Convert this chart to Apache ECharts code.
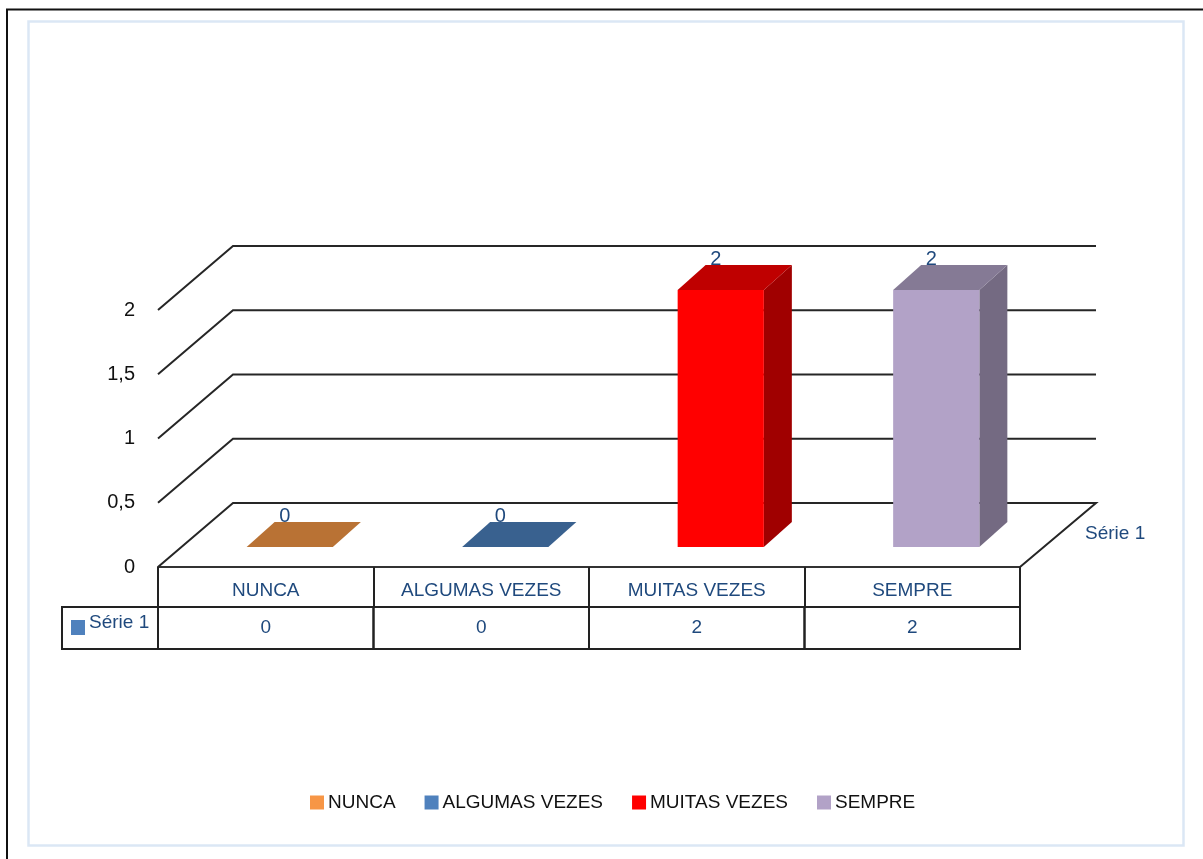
<!DOCTYPE html>
<html><head><meta charset="utf-8">
<style>html,body{margin:0;padding:0;background:#fff}#c{width:1203px;height:859px}</style>
<script src="https://cdn.jsdelivr.net/npm/echarts@6/dist/echarts.min.js"></script>
</head><body><div id="c"></div>
<script>
const categories = ['NUNCA', 'ALGUMAS VEZES', 'MUITAS VEZES', 'SEMPRE'];
const values = [0, 0, 2, 2];
const yTicks = [0, 0.5, 1, 1.5, 2];
const seriesName = 'Série 1';
const frontColors = ['#f79646', '#4f81bd', '#ff0000', '#b2a2c7'];
const topColors = ['#b97234', '#39618f', '#bf0000', '#857a95'];
const sideColors = ['#94592a', '#2f5078', '#a00000', '#746a82'];

const FONT = '"Liberation Sans", Arial, sans-serif';
const BLUE = '#1f497d';
const WALL_DX = 75, WALL_DY = -64;
const BAR_DX = 28, BAR_DY = -25;
const BAR_SHIFT_X = 24, BAR_SHIFT_Y = -20;

const chart = echarts.init(document.getElementById('c'), null, {renderer: 'canvas'});

function poly(points, fill) {
  return {type: 'polygon', shape: {points}, style: {fill, stroke: null}};
}

const barSeries = categories.map((name, i) => ({
  name,
  type: 'custom',
  coordinateSystem: 'cartesian2d',
  itemStyle: {color: frontColors[i]},
  z: 5,
  data: [[name, values[i]]],
  renderItem(params, api) {
    const base = api.coord([api.value(0), 0]);
    const top = api.coord([api.value(0), api.value(1)]);
    const w = api.size([1, 0])[0] * 0.4;
    const l = base[0] + BAR_SHIFT_X - w / 2, r = l + w;
    const b = base[1] + BAR_SHIFT_Y, t = top[1] + BAR_SHIFT_Y;
    const children = [
      poly([[r, b], [r + BAR_DX, b + BAR_DY], [r + BAR_DX, t + BAR_DY], [r, t]], sideColors[i]),
      poly([[l, t], [l + BAR_DX, t + BAR_DY], [r + BAR_DX, t + BAR_DY], [r, t]], topColors[i])
    ];
    if (t < b) children.push({type: 'rect', shape: {x: l, y: t, width: w, height: b - t}, style: {fill: frontColors[i]}});
    children.push({type: 'text', style: {
      text: String(values[i]), x: (l + r) / 2 - 5, y: t - 31, fill: BLUE,
      font: '20px ' + FONT, align: 'center', verticalAlign: 'middle'}});
    return {type: 'group', children};
  }
}));

const wallSeries = {
  type: 'custom', coordinateSystem: 'cartesian2d', z: 1, silent: true,
  data: yTicks.map(v => [categories[0], v]),
  renderItem(params, api) {
    const v = api.value(1);
    const rect = params.coordSys;
    const y = api.coord([categories[0], v])[1];
    const x0 = rect.x, x1 = rect.x + rect.width;
    const line = {stroke: '#262626', lineWidth: 2, fill: null};
    const pts = [[x0, y], [x0 + WALL_DX, y + WALL_DY], [x1 + WALL_DX + 1, y + WALL_DY]];
    if (v === 0) pts.push([x1, y]);
    return {type: 'polyline', shape: {points: pts}, style: line};
  }
};

const tableSeries = {
  type: 'custom', coordinateSystem: 'cartesian2d', z: 2, silent: true,
  data: categories.map((c, i) => [c, values[i]]),
  renderItem(params, api) {
    const c = api.coord([api.value(0), 0]);
    const w = api.size([1, 0])[0];
    const children = [
      {type: 'rect', shape: {x: c[0] - w / 2, y: c[1] + 40, width: w, height: 42},
       style: {fill: 'none', stroke: '#222', lineWidth: 2}},
      {type: 'text', style: {text: String(api.value(1)), x: c[0], y: c[1] + 61, fill: BLUE,
       font: '19px ' + FONT, align: 'center', verticalAlign: 'middle'}}
    ];
    return {type: 'group', children};
  }
};

chart.setOption({
  animation: false,
  backgroundColor: '#fff',
  textStyle: {fontFamily: FONT},
  grid: {left: 158, right: 183, top: 310, bottom: 292, containLabel: false},
  legend: {
    data: categories, left: 305, top: 788, itemWidth: 14, itemHeight: 14, itemGap: 29,
    icon: 'rect', selectedMode: false,
    textStyle: {color: '#111', fontSize: 19, fontFamily: FONT, padding: [0, 0, 0, -1]}
  },
  xAxis: {
    type: 'category', data: categories,
    axisLine: {lineStyle: {color: '#333', width: 2}},
    axisTick: {show: true, length: 40, lineStyle: {color: '#222', width: 2}},
    axisLabel: {color: BLUE, fontSize: 19, margin: 14, fontFamily: FONT, interval: 0},
    splitLine: {show: false}
  },
  yAxis: {
    type: 'value', min: 0, max: 2, interval: 0.5,
    axisLine: {show: false}, axisTick: {show: false}, splitLine: {show: false},
    axisLabel: {color: '#111', fontSize: 20, margin: 23, fontFamily: FONT, padding: [0, 0, 3, 0],
      formatter: v => String(v).replace('.', ',')}
  },
  series: [wallSeries, tableSeries, ...barSeries],
  graphic: [
    {type: 'polyline', silent: true, shape: {points: [[7, 859], [7, 9.5], [1203, 9.5]]},
     style: {stroke: '#111', lineWidth: 2, fill: null}},
    {type: 'rect', silent: true, z: -1, shape: {x: 28.5, y: 21.5, width: 1155, height: 824},
     style: {fill: 'none', stroke: '#dbe7f5', lineWidth: 2.5}},
    {type: 'rect', silent: true, shape: {x: 62, y: 607, width: 96, height: 42},
     style: {fill: 'none', stroke: '#222', lineWidth: 2}},
    {type: 'rect', silent: true, shape: {x: 71, y: 620, width: 14, height: 15}, style: {fill: '#4f81bd'}},
    {type: 'text', silent: true, style: {text: seriesName, x: 89, y: 623, fill: BLUE,
      font: '19px ' + FONT, verticalAlign: 'middle'}},
    {type: 'text', silent: true, style: {text: seriesName, x: 1085, y: 534, fill: BLUE,
      font: '19px ' + FONT, verticalAlign: 'middle'}}
  ]
});
</script></body></html>
